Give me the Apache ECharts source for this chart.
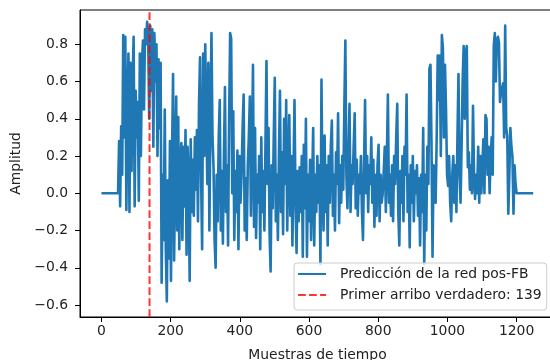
<!DOCTYPE html>
<html><head><meta charset="utf-8">
<script src="https://cdn.jsdelivr.net/npm/echarts@6/dist/echarts.min.js"></script>
<style>html,body{margin:0;padding:0;background:#fff}#c{width:550px;height:360px}</style>
</head><body><div id="c"></div>
<script>
// Sample step between stored amplitude values (time samples)
const paso = 3;
const amplitud = [
0,0,0,0,0,0,0,0,0,0,0,0,0,0,0,0,0,
0.28,-0.07,0.36,0.1,0.85,0.3,0.84,-0.09,0.45,0.75,-0.1,0.7,0.12,0.6,0.84,-0.07,0.55,0.3,0.49,-0.04,0.75,0.2,0.7,0.82,0.45,0.88,0.8,0.92,
0.85,0.4,0.9,0.55,0.88,0.25,0.86,0.6,0.8,0.2,0.72,0.35,0.7,-0.48,0.1,-0.25,
0.45,-0.3,-0.58,0.07,-0.35,0.28,-0.47,0.2,0.64,-0.36,0.1,0.52,-0.2,0.41,-0.3,0.15,0.27,-0.25,0.25,-0.07,0.34,-0.33,0.25,0.05,-0.47,0.29,-0.1,0.18,-0.12,0.3,0.02,0.34,-0.15,0.48,0.73,0.1,-0.3,0.75,0.2,0.8,
0.8,0.05,0.7,-0.2,0.4,0.86,0.3,0.14,-0.25,-0.4,
0.1,-0.15,0.3,0.5,-0.2,0.12,-0.27,0.2,0.57,-0.1,
0.15,-0.28,0.4,0.86,0.83,0.0,0.44,-0.25,0.12,-0.1,
0.23,-0.3,0.2,-0.05,0.1,0.35,0.53,-0.2,0.08,-0.25,
0.15,0.3,0.52,-0.12,0.2,0.69,-0.18,0.35,-0.24,0.1,
-0.05,0.2,-0.3,0.3,-0.1,0.12,-0.2,0.25,0.71,0.05,
0.35,-0.22,-0.42,0.15,-0.08,0.3,0.62,-0.15,0.1,-0.25,
0.2,0.55,-0.1,0.22,-0.22,0.4,0.05,0.5,-0.2,0.15,
0.42,-0.12,0.2,-0.28,0.1,0.5,-0.05,-0.32,0.12,-0.15,
0.14,-0.1,0.2,-0.34,0.26,-0.08,0.4,-0.34,0.1,-0.15,
0.18,-0.25,0.05,0.35,-0.28,0.1,-0.1,0.2,-0.05,0.15,
-0.38,0.61,0.0,-0.2,0.31,-0.1,0.15,-0.28,0.2,-0.05,
0.25,0.39,-0.12,0.1,-0.2,0.22,0.05,0.43,-0.16,0.15,
-0.05,0.2,0.02,0.45,0.82,0.1,-0.08,0.2,0.48,-0.1,
0.15,0.05,0.25,0.43,-0.08,0.18,-0.12,0.1,0.0,0.2,
-0.1,-0.25,0.15,0.5,0.0,0.2,-0.1,0.15,0.05,0.3,
-0.05,0.18,-0.18,0.1,-0.12,0.15,0.26,-0.15,0.1,-0.05,
0.0,0.12,0.25,-0.1,0.2,0.53,-0.05,0.1,-0.12,0.15,
-0.15,0.2,0.05,0.3,0.48,-0.1,-0.28,0.12,-0.05,0.2,
-0.15,0.25,0.1,0.53,-0.1,0.1,-0.29,0.15,-0.05,0.2,
-0.15,0.12,0.0,0.15,-0.12,0.08,-0.28,0.1,-0.1,0.35,
-0.38,0.1,-0.2,0.25,0.05,0.67,
0.69,0.27,-0.34,0.15,0.1,-0.05,0.3,0.74,0.5,0.74,
0.2,0.85,0.78,0.3,0.69,0.45,0.1,0.04,0.2,-0.05,
-0.15,0.1,0.2,-0.05,0.15,-0.1,0.3,0.64,0.1,-0.05,
0.25,0.6,0.79,0.4,0.75,0.79,0.14,0.22,0.02,0.15,
0.0,0.47,0.1,-0.03,0.1,0.0,0.25,-0.05,0.2,0.0,
0.15,0.29,0.0,0.42,0.4,0.1,0.25,0.0,0.2,0.3,
0.1,0.79,0.86,0.6,0.82,0.84,0.81,0.49,0.54,0.55,
0.59,0.3,0.9,0.35,0.31,-0.11,0.1,0.35,0.25,0.2,
-0.11,0.15,0.05,
0,0,0,0,0,0,0,0,0,0,0,0,0,0,0,0,0
];
const primerArribo = 139;
const xTicks = [0, 200, 400, 600, 800, 1000, 1200];
const yTicks = [-0.6, -0.4, -0.2, 0, 0.2, 0.4, 0.6, 0.8];
const nombreSerie = 'Predicción de la red pos-FB';
const nombreArribo = 'Primer arribo verdadero: ' + primerArribo;
const tituloX = 'Muestras de tiempo';
const tituloY = 'Amplitud';

const X_MIN = -62, X_MAX = 1311, Y_MIN = -0.664, Y_MAX = 0.984;
const FONT = 'DejaVu Sans';
const TXT = '#222';

const chart = echarts.init(document.getElementById('c'), null, {renderer: 'canvas'});
chart.setOption({
  animation: false,
  backgroundColor: '#fff',
  grid: {left: 80, right: -5, top: 10, bottom: 43, show: true, borderColor: '#000', borderWidth: 1,
         containLabel: false, outerBoundsMode: 'none'},
  xAxis: {
    type: 'value', min: X_MIN, max: X_MAX,
    axisLine: {show: true, onZero: false, lineStyle: {color: '#000', width: 1}},
    axisTick: {show: true, length: 5, customValues: xTicks, lineStyle: {color: '#000', width: 1}},
    axisLabel: {customValues: xTicks, margin: 7, fontSize: 13.9, fontFamily: FONT, color: TXT,
                formatter: v => String(v)},
    splitLine: {show: false},
    name: tituloX, nameLocation: 'middle', nameGap: 31,
    nameTextStyle: {fontSize: 13.9, fontFamily: FONT, color: TXT}
  },
  yAxis: {
    type: 'value', min: Y_MIN, max: Y_MAX,
    axisLine: {show: true, onZero: false, lineStyle: {color: '#000', width: 1}},
    axisTick: {show: true, length: 5, customValues: yTicks, lineStyle: {color: '#000', width: 1}},
    axisLabel: {customValues: yTicks, margin: 12, fontSize: 13.9, fontFamily: FONT, color: TXT,
                formatter: v => v.toFixed(1).replace('-', '\u2212')},
    splitLine: {show: false},
    name: tituloY, nameLocation: 'middle', nameGap: 44, nameRotate: 90,
    nameTextStyle: {fontSize: 13.9, fontFamily: FONT, color: TXT}
  },
  legend: {
    orient: 'vertical', right: 3.3, bottom: 50,
    padding: [3, 5, 7, 4], itemGap: 5, itemWidth: 28, itemHeight: 2,
    backgroundColor: 'rgba(255,255,255,0.8)', borderColor: '#cccccc', borderWidth: 1, borderRadius: 3,
    selectedMode: false,
    textStyle: {fontFamily: FONT, fontSize: 13.9, color: TXT, lineHeight: 16, padding: [0, 0, 0, 9]},
    data: [
      {name: nombreSerie, icon: 'path://M0,0H28V2H0Z'},
      {name: nombreArribo, icon: 'path://M0,0H7.7V2H0Z M11,0H18.7V2H11Z M22,0H28V2H22Z'}
    ]
  },
  series: [
    {
      type: 'line', name: nombreSerie,
      data: amplitud.map((v, i) => [i * paso, v]),
      showSymbol: false, symbol: 'none', sampling: null,
      lineStyle: {color: '#1f77b4', width: 2.6, join: 'round'},
      itemStyle: {color: '#1f77b4'},
      emphasis: {disabled: true}, z: 2
    },
    {
      type: 'line', name: nombreArribo,
      data: [[primerArribo, Y_MIN], [primerArribo, Y_MAX]],
      showSymbol: false, symbol: 'none',
      lineStyle: {color: 'rgba(255,0,0,0.8)', width: 2, type: [7.7, 3.3]},
      itemStyle: {color: 'rgba(255,0,0,0.8)'},
      emphasis: {disabled: true}, z: 3
    }
  ]
});
</script>
</body></html>
